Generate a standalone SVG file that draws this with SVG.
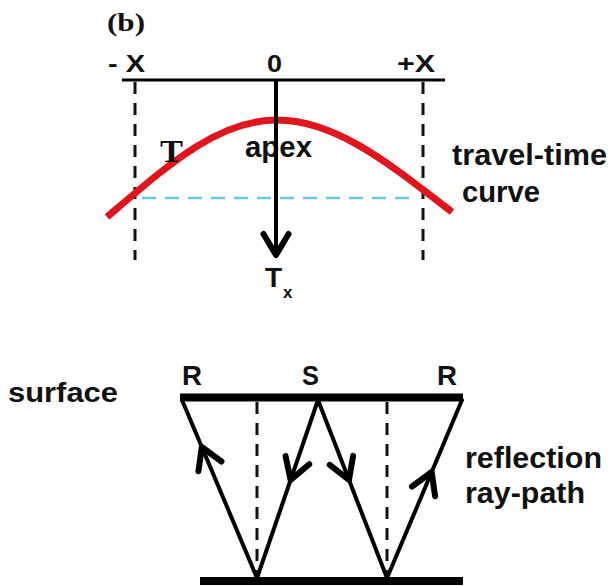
<svg xmlns="http://www.w3.org/2000/svg" width="611" height="586" viewBox="0 0 611 586">
  <style>
    .lbl { font-family: "Liberation Sans", Arial, sans-serif; font-weight: bold; fill: #111; }
    .ser { font-family: "Liberation Serif", "Times New Roman", serif; font-weight: bold; fill: #111; }
    .dash { stroke: #111; stroke-width: 3; stroke-dasharray: 12 9; fill: none; }
    .ray { stroke: #000; stroke-width: 4; fill: none; stroke-linecap: round; }
    .bar { stroke: #000; stroke-width: 8; fill: none; }
  </style>
  <defs>
    <marker id="chev" markerUnits="userSpaceOnUse" markerWidth="50" markerHeight="50" refX="0" refY="0" orient="auto" overflow="visible">
      <path d="M-21,-12.5 L0,0 L-21,12.5" fill="none" stroke="#000" stroke-width="6" stroke-linecap="round" stroke-linejoin="round"/>
    </marker>
  </defs>
  <rect width="611" height="586" fill="#fff"/>

  <g id="panel-label">
    <text class="ser" x="107" y="31" font-size="25" textLength="38" lengthAdjust="spacingAndGlyphs">(b)</text>
  </g>

  <g id="x-axis">
    <line x1="122" y1="80" x2="445" y2="80" stroke="#000" stroke-width="3"/>
    <text class="lbl" x="108" y="72" font-size="24" textLength="37" lengthAdjust="spacingAndGlyphs">- X</text>
    <text class="lbl" x="267" y="72" font-size="24" textLength="15" lengthAdjust="spacingAndGlyphs">0</text>
    <text class="lbl" x="397" y="72" font-size="24" textLength="38" lengthAdjust="spacingAndGlyphs">+X</text>
  </g>

  <g id="guides-top">
    <line class="dash" x1="135" y1="82" x2="135" y2="260"/>
    <line class="dash" x1="423" y1="82" x2="423" y2="260"/>
    <line x1="142" y1="198" x2="410" y2="198" stroke="#6cc9e3" stroke-width="2.5" stroke-dasharray="14 9"/>
  </g>

  <g id="travel-time-curve">
    <path d="M107,217 C167,166 217,120 277,120 C337,120 392,166 452,212" fill="none" stroke="#e0161c" stroke-width="7"/>
    <text class="ser" x="160" y="162" font-size="31" textLength="23" lengthAdjust="spacingAndGlyphs">T</text>
    <text class="lbl" x="245" y="157" font-size="29" textLength="67" lengthAdjust="spacingAndGlyphs">apex</text>
    <text class="lbl" x="452" y="165" font-size="29" textLength="155" lengthAdjust="spacingAndGlyphs">travel-time</text>
    <text class="lbl" x="462" y="202" font-size="29" textLength="78" lengthAdjust="spacingAndGlyphs">curve</text>
  </g>

  <g id="tx-label">
    <text class="lbl" x="265" y="287" font-size="28">T<tspan x="283" y="298" font-size="17">x</tspan></text>
  </g>

  <g id="surface-labels">
    <text class="lbl" x="8" y="402" font-size="28" textLength="110" lengthAdjust="spacingAndGlyphs">surface</text>
    <text class="lbl" x="182" y="385" font-size="28" textLength="20" lengthAdjust="spacingAndGlyphs">R</text>
    <text class="lbl" x="302" y="385" font-size="28" textLength="17" lengthAdjust="spacingAndGlyphs">S</text>
    <text class="lbl" x="437" y="385" font-size="28" textLength="20" lengthAdjust="spacingAndGlyphs">R</text>
    <text class="lbl" x="465" y="468" font-size="30" textLength="137" lengthAdjust="spacingAndGlyphs">reflection</text>
    <text class="lbl" x="465" y="503" font-size="30" textLength="120" lengthAdjust="spacingAndGlyphs">ray-path</text>
  </g>

  <g id="layers">
    <line class="bar" x1="180" y1="397.5" x2="463" y2="397.5"/>
    <line class="bar" x1="200" y1="581" x2="463" y2="581"/>
    <line class="dash" x1="257" y1="402" x2="257" y2="577" stroke-dasharray="11 10"/>
    <line class="dash" x1="387" y1="402" x2="387" y2="577" stroke-dasharray="11 10"/>
  </g>

  <g id="connectors">
    <line x1="276" y1="80" x2="276" y2="255" stroke="#000" stroke-width="4" marker-end="url(#chev)"/>
    <path class="ray" d="M257,578 L201.8,447 L182,400" marker-mid="url(#chev)"/>
    <path class="ray" d="M318,400 L290.6,480 L257,578" marker-mid="url(#chev)"/>
    <path class="ray" d="M318,400 L349,480 L387,578" marker-mid="url(#chev)"/>
    <path class="ray" d="M387,578 L431.7,472 L462,400" marker-mid="url(#chev)"/>
  </g>
</svg>
